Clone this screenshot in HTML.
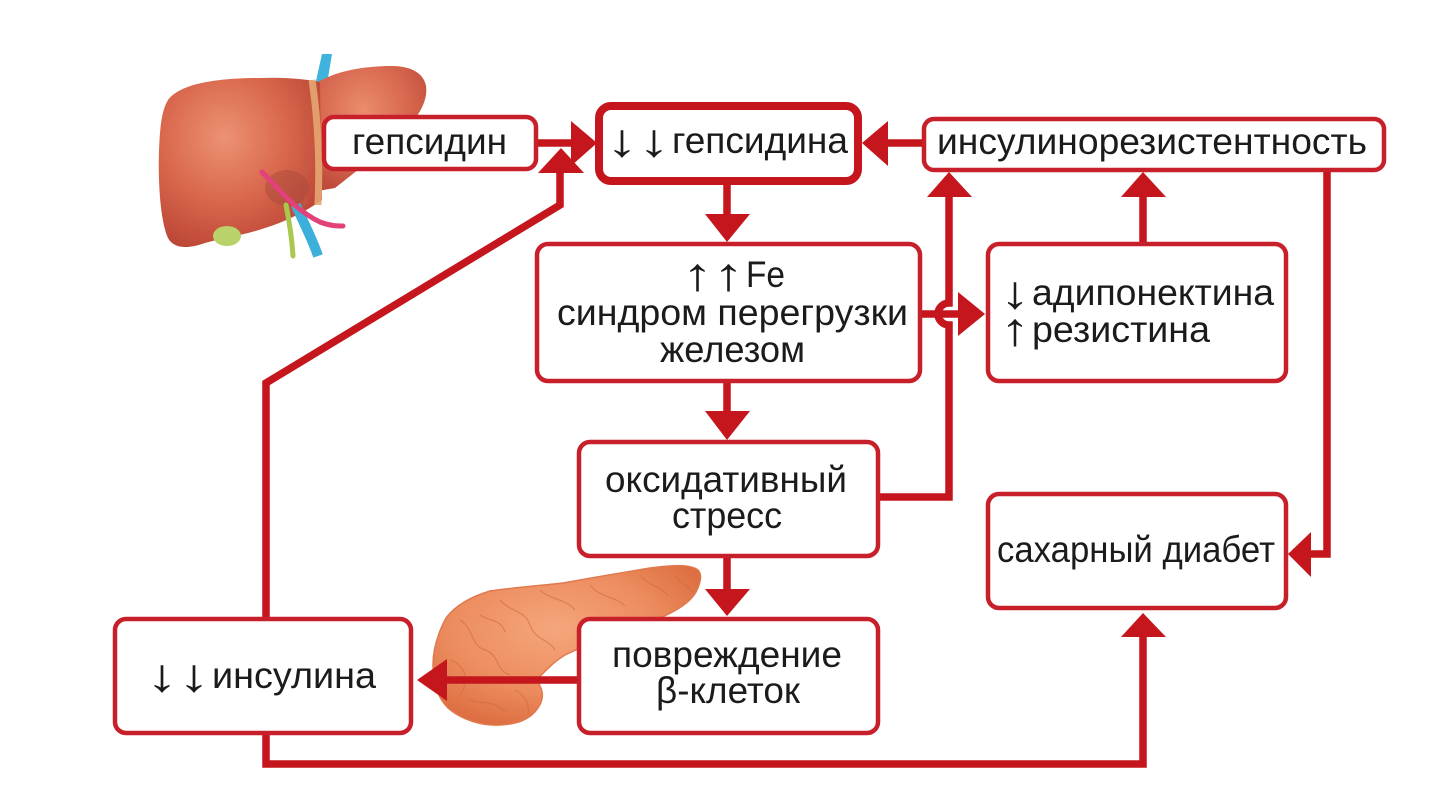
<!DOCTYPE html>
<html><head><meta charset="utf-8">
<style>
html,body{margin:0;padding:0;background:#fff;}
svg{display:block;}
text{font-family:"Liberation Sans","DejaVu Sans",sans-serif;font-size:37px;fill:#1b1b1b;}
.ar{font-size:46px;}
</style></head>
<body>
<svg width="1449" height="786" viewBox="0 0 1449 786" xmlns="http://www.w3.org/2000/svg">
<defs>
  <radialGradient id="liv" cx="0.4" cy="0.35" r="0.7">
    <stop offset="0" stop-color="#ec9274"/>
    <stop offset="0.55" stop-color="#d9674c"/>
    <stop offset="1" stop-color="#bb4636"/>
  </radialGradient>
  <radialGradient id="liv2" cx="0.45" cy="0.35" r="0.7">
    <stop offset="0" stop-color="#ea8c6e"/>
    <stop offset="0.6" stop-color="#d6654d"/>
    <stop offset="1" stop-color="#bd4a3a"/>
  </radialGradient>
  <radialGradient id="pan" cx="0.45" cy="0.4" r="0.65">
    <stop offset="0" stop-color="#f5a67c"/>
    <stop offset="0.6" stop-color="#ec8c5e"/>
    <stop offset="1" stop-color="#dc6d40"/>
  </radialGradient>
</defs>

<!-- LIVER -->
<g>
  <path d="M322,54 L332,54 L326,90 L314,90 Z" fill="#3fb3de"/>
  <path d="M318,82 C335,72 360,66 392,66 C412,66 424,74 426,86 C428,100 420,115 405,130 C385,150 360,168 335,188 L312,192 Z" fill="url(#liv2)"/>
  <path d="M168,100 C180,84 215,78 260,78 C285,77 305,79 320,82 L322,200 C305,212 285,222 262,229 C240,236 222,238 205,243 C188,249 174,249 168,238 C160,220 158,180 159,150 C160,125 162,110 168,100 Z" fill="url(#liv)"/>
  <path d="M312,80 C318,120 320,160 318,205" stroke="#e6a672" stroke-width="7" fill="none" opacity="0.9"/>
  <path d="M300,82 C306,120 308,165 305,205" stroke="#c85a45" stroke-width="3" fill="none" opacity="0.5"/>
  <ellipse cx="287" cy="188" rx="22" ry="18" fill="#a34a3c" opacity="0.45"/>
  <ellipse cx="227" cy="236" rx="14" ry="10" fill="#b9d36a"/>
  <path d="M286,205 C290,225 292,240 293,256" stroke="#a8c84e" stroke-width="5" fill="none" stroke-linecap="round"/>
  <path d="M296,205 C303,222 312,238 318,256" stroke="#3cb0da" stroke-width="10" fill="none"/>
  <path d="M262,172 C280,190 295,210 320,222 C330,226 338,226 343,226" stroke="#e2417a" stroke-width="5" fill="none" stroke-linecap="round"/>
</g>

<!-- PANCREAS -->
<path d="M698,570 C690,564 673,565 650,568 C620,573 590,578 563,583 C535,586 510,588 490,591 C470,597 455,606 446,618 C437,635 433,650 433,665 C433,682 437,697 448,708 C462,720 482,726 500,725 C517,724 530,720 538,708 C545,698 543,688 536,680 C545,672 553,662 565,655 C600,638 630,628 655,620 C675,612 690,603 696,592 C701,582 702,574 698,570 Z" fill="url(#pan)" stroke="#e07a4e" stroke-width="1.5"/>
<g stroke="#d26a40" stroke-width="1.2" fill="none" opacity="0.6">
  <path d="M460,620 C475,630 470,645 485,650 C500,655 495,670 510,675"/>
  <path d="M450,660 C465,665 470,680 460,695 M470,700 C485,705 495,700 505,712"/>
  <path d="M500,600 C510,612 525,610 530,625 C535,640 550,640 555,650"/>
  <path d="M540,590 C550,600 565,598 575,610 M590,585 C600,598 615,596 625,606"/>
  <path d="M640,575 C648,586 660,585 668,596 M675,575 C680,585 688,585 692,592"/>
  <path d="M480,615 C490,622 500,618 505,632 M515,690 C525,695 530,705 528,715"/>
</g>

<!-- CONNECTORS -->
<g stroke="#c4161c" stroke-width="7.5" fill="none" stroke-linejoin="miter">
  <path d="M538,143 L573,143"/>
  <path d="M266,617 L266,383 L560,205 L560,172"/>
  <path d="M727,185 L727,216"/>
  <path d="M922,143 L886,143"/>
  <path d="M1143,243 L1143,195"/>
  <path d="M880,497 L949,497 L949,325 A11 11 0 0 1 949,303 L949,196"/>
  <path d="M922,314 L960,314"/>
  <path d="M1327,172 L1327,554 L1309,554"/>
  <path d="M727,383 L727,413"/>
  <path d="M727,558 L727,591"/>
  <path d="M577,680 L446,680"/>
  <path d="M266,735 L266,764 L1143,764 L1143,635"/>
</g>
<g fill="#c4161c">
  <polygon points="571,121 597,143 571,166"/>
  <polygon points="538,173 561,148 584,173"/>
  <polygon points="705,214 750,214 727,242"/>
  <polygon points="888,121 862,143 888,166"/>
  <polygon points="1121,197 1166,197 1143,172"/>
  <polygon points="927,197 972,197 949,172"/>
  <polygon points="958,292 985,314 958,336"/>
  <polygon points="1311,532 1288,554 1311,577"/>
  <polygon points="705,411 750,411 727,440"/>
  <polygon points="705,589 750,589 727,616"/>
  <polygon points="447,659 417,680 447,701"/>
  <polygon points="1121,637 1166,637 1143,613"/>
</g>

<!-- BOXES -->
<g fill="#fff" stroke="#c8202a" stroke-width="4.5">
  <rect x="324" y="117" width="212" height="52" rx="10"/>
  <rect x="924" y="119" width="460" height="51" rx="10"/>
  <rect x="537" y="244" width="383" height="137" rx="11"/>
  <rect x="988" y="244" width="298" height="137" rx="11"/>
  <rect x="579" y="442" width="299" height="114" rx="11"/>
  <rect x="988" y="494" width="298" height="114" rx="11"/>
  <rect x="579" y="619" width="299" height="114" rx="11"/>
  <rect x="115" y="619" width="296" height="114" rx="11"/>
</g>
<rect x="599" y="106" width="259" height="75" rx="12" fill="#fff" stroke="#c4161c" stroke-width="8"/>

<!-- TEXT -->
<text x="352" y="154" textLength="155" lengthAdjust="spacingAndGlyphs">гепсидин</text>
<text x="606" y="156" class="ar" textLength="64" lengthAdjust="spacingAndGlyphs">↓↓</text>
<text x="672" y="153" textLength="176" lengthAdjust="spacingAndGlyphs">гепсидина</text>
<text x="937" y="154" textLength="430" lengthAdjust="spacingAndGlyphs">инсулинорезистентность</text>
<text x="682" y="290" class="ar" textLength="62" lengthAdjust="spacingAndGlyphs">↑↑</text>
<text x="746" y="287" textLength="39" lengthAdjust="spacingAndGlyphs">Fe</text>
<text x="557" y="325" textLength="351" lengthAdjust="spacingAndGlyphs">синдром перегрузки</text>
<text x="660" y="362" textLength="145" lengthAdjust="spacingAndGlyphs">железом</text>
<text x="1000" y="308" class="ar" textLength="30" lengthAdjust="spacingAndGlyphs">↓</text>
<text x="1032" y="305" textLength="242" lengthAdjust="spacingAndGlyphs">адипонектина</text>
<text x="1000" y="345" class="ar" textLength="30" lengthAdjust="spacingAndGlyphs">↑</text>
<text x="1032" y="342" textLength="178" lengthAdjust="spacingAndGlyphs">резистина</text>
<text x="605" y="492" textLength="242" lengthAdjust="spacingAndGlyphs">оксидативный</text>
<text x="672" y="528" textLength="110" lengthAdjust="spacingAndGlyphs">стресс</text>
<text x="997" y="562" textLength="278" lengthAdjust="spacingAndGlyphs">сахарный диабет</text>
<text x="612" y="667" textLength="230" lengthAdjust="spacingAndGlyphs">повреждение</text>
<text x="656" y="703" textLength="144" lengthAdjust="spacingAndGlyphs">β-клеток</text>
<text x="146" y="691" class="ar" textLength="64" lengthAdjust="spacingAndGlyphs">↓↓</text>
<text x="212" y="688" textLength="164" lengthAdjust="spacingAndGlyphs">инсулина</text>
</svg>
</body></html>
